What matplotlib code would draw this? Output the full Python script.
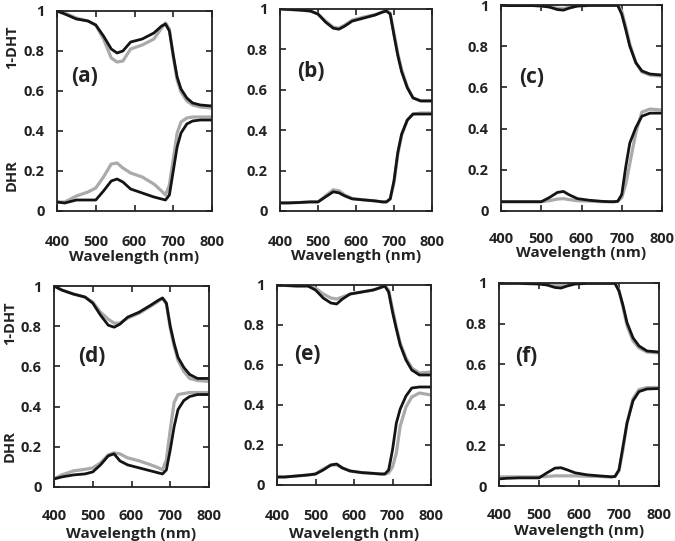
import matplotlib
matplotlib.use("Agg")
from matplotlib import pyplot as plt

plt.rcParams['font.family'] = ['Open Sans', 'DejaVu Sans']
plt.rcParams['font.weight'] = 'bold'

# wavelength grid (nm), shared by all curves
wavelength = [400, 420, 450, 480, 500, 520, 540, 555, 570, 590, 620, 650, 670, 680, 690, 700, 710, 720, 735, 750, 770, 800]

# (a)
a_dht_black = [1.0, 0.985, 0.96, 0.95, 0.93, 0.875, 0.81, 0.79, 0.80, 0.845, 0.86, 0.89, 0.925, 0.935, 0.9, 0.78, 0.67, 0.61, 0.565, 0.54, 0.53, 0.525]
a_dht_gray = [1.0, 0.99, 0.965, 0.95, 0.93, 0.86, 0.765, 0.745, 0.75, 0.81, 0.83, 0.86, 0.915, 0.94, 0.91, 0.77, 0.655, 0.595, 0.55, 0.53, 0.52, 0.515]
a_dhr_black = [0.045, 0.04, 0.055, 0.055, 0.055, 0.10, 0.15, 0.16, 0.145, 0.11, 0.09, 0.07, 0.06, 0.055, 0.08, 0.2, 0.32, 0.39, 0.435, 0.45, 0.455, 0.455]
a_dhr_gray = [0.045, 0.045, 0.075, 0.095, 0.115, 0.17, 0.235, 0.24, 0.215, 0.19, 0.17, 0.135, 0.10, 0.08, 0.13, 0.26, 0.39, 0.445, 0.465, 0.47, 0.47, 0.47]

# (b)
b_dht_black = [1.0, 0.998, 0.995, 0.99, 0.975, 0.935, 0.905, 0.90, 0.915, 0.94, 0.955, 0.97, 0.985, 0.99, 0.975, 0.87, 0.77, 0.69, 0.61, 0.56, 0.545, 0.545]
b_dht_gray = [1.0, 0.998, 0.995, 0.99, 0.975, 0.94, 0.91, 0.905, 0.92, 0.945, 0.96, 0.972, 0.985, 0.992, 0.98, 0.88, 0.78, 0.70, 0.615, 0.56, 0.545, 0.545]
b_dhr_black = [0.04, 0.04, 0.042, 0.045, 0.045, 0.07, 0.095, 0.09, 0.075, 0.06, 0.055, 0.05, 0.045, 0.045, 0.06, 0.15, 0.29, 0.38, 0.45, 0.48, 0.48, 0.48]
b_dhr_gray = [0.04, 0.04, 0.042, 0.045, 0.045, 0.075, 0.105, 0.1, 0.08, 0.062, 0.055, 0.05, 0.045, 0.045, 0.06, 0.14, 0.28, 0.375, 0.45, 0.48, 0.485, 0.485]

# (c)
c_dht_black = [0.998, 0.997, 0.997, 0.997, 0.995, 0.99, 0.978, 0.975, 0.985, 0.995, 0.998, 0.998, 0.998, 0.998, 0.998, 0.955, 0.88, 0.80, 0.72, 0.68, 0.665, 0.66]
c_dht_gray = [1.0, 1.0, 0.998, 0.998, 0.996, 0.992, 0.985, 0.983, 0.99, 0.996, 0.998, 0.998, 0.998, 0.998, 0.998, 0.97, 0.895, 0.81, 0.72, 0.675, 0.66, 0.655]
c_dhr_black = [0.045, 0.045, 0.045, 0.045, 0.045, 0.065, 0.09, 0.095, 0.078, 0.06, 0.052, 0.047, 0.045, 0.045, 0.047, 0.08, 0.215, 0.33, 0.405, 0.46, 0.475, 0.475]
c_dhr_gray = [0.045, 0.045, 0.045, 0.045, 0.045, 0.05, 0.058, 0.06, 0.055, 0.05, 0.048, 0.045, 0.045, 0.045, 0.047, 0.065, 0.13, 0.23, 0.38, 0.48, 0.495, 0.49]

# (d)
d_dht_black = [1.0, 0.98, 0.96, 0.945, 0.915, 0.855, 0.805, 0.795, 0.81, 0.845, 0.87, 0.905, 0.93, 0.94, 0.915, 0.80, 0.715, 0.645, 0.595, 0.56, 0.54, 0.54]
d_dht_gray = [1.0, 0.98, 0.96, 0.945, 0.92, 0.87, 0.835, 0.815, 0.815, 0.84, 0.865, 0.90, 0.925, 0.94, 0.91, 0.79, 0.70, 0.63, 0.575, 0.54, 0.53, 0.525]
d_dhr_black = [0.04, 0.05, 0.06, 0.065, 0.075, 0.11, 0.155, 0.165, 0.13, 0.11, 0.095, 0.08, 0.07, 0.065, 0.085, 0.185, 0.30, 0.385, 0.43, 0.45, 0.46, 0.46]
d_dhr_gray = [0.04, 0.06, 0.08, 0.088, 0.095, 0.12, 0.16, 0.17, 0.165, 0.145, 0.13, 0.11, 0.095, 0.085, 0.135, 0.285, 0.42, 0.46, 0.465, 0.47, 0.47, 0.47]

# (e)
e_dht_black = [0.998, 0.998, 0.995, 0.995, 0.975, 0.935, 0.91, 0.905, 0.93, 0.955, 0.965, 0.975, 0.988, 0.995, 0.965, 0.865, 0.78, 0.70, 0.625, 0.575, 0.55, 0.55]
e_dht_gray = [0.998, 0.998, 0.995, 0.995, 0.985, 0.955, 0.935, 0.93, 0.94, 0.955, 0.965, 0.975, 0.988, 0.995, 0.975, 0.88, 0.79, 0.71, 0.635, 0.585, 0.56, 0.565]
e_dhr_black = [0.04, 0.04, 0.045, 0.05, 0.055, 0.075, 0.1, 0.105, 0.085, 0.07, 0.062, 0.058, 0.055, 0.055, 0.075, 0.175, 0.31, 0.38, 0.445, 0.485, 0.49, 0.49]
e_dhr_gray = [0.04, 0.04, 0.045, 0.05, 0.055, 0.08, 0.1, 0.1, 0.085, 0.07, 0.062, 0.058, 0.055, 0.055, 0.06, 0.09, 0.16, 0.295, 0.39, 0.44, 0.46, 0.45]

# (f)
f_dht_black = [0.998, 0.998, 0.998, 0.996, 0.995, 0.99, 0.978, 0.975, 0.985, 0.995, 0.998, 0.998, 0.998, 0.998, 0.998, 0.96, 0.89, 0.805, 0.73, 0.69, 0.665, 0.66]
f_dht_gray = [1.0, 1.0, 1.0, 0.998, 0.998, 0.995, 0.99, 0.988, 0.99, 0.997, 0.998, 0.998, 0.998, 0.998, 0.998, 0.965, 0.88, 0.79, 0.715, 0.68, 0.66, 0.655]
f_dhr_black = [0.035, 0.038, 0.04, 0.04, 0.04, 0.065, 0.088, 0.09, 0.08, 0.065, 0.055, 0.05, 0.047, 0.045, 0.047, 0.08, 0.195, 0.31, 0.42, 0.465, 0.478, 0.48]
f_dhr_gray = [0.045, 0.045, 0.045, 0.045, 0.045, 0.047, 0.05, 0.05, 0.05, 0.05, 0.048, 0.047, 0.045, 0.045, 0.047, 0.075, 0.18, 0.31, 0.43, 0.475, 0.485, 0.485]

panel_names = ['(a)', '(b)', '(c)', '(d)', '(e)', '(f)']
x_ticks = [400, 500, 600, 700, 800]
y_ticks = [0, 0.2, 0.4, 0.6, 0.8, 1]
y_tick_labels = ['0', '0.2', '0.4', '0.6', '0.8', '1']

panels = [
    (a_dht_black, a_dht_gray, a_dhr_black, a_dhr_gray),
    (b_dht_black, b_dht_gray, b_dhr_black, b_dhr_gray),
    (c_dht_black, c_dht_gray, c_dhr_black, c_dhr_gray),
    (d_dht_black, d_dht_gray, d_dhr_black, d_dhr_gray),
    (e_dht_black, e_dht_gray, e_dhr_black, e_dhr_gray),
    (f_dht_black, f_dht_gray, f_dhr_black, f_dhr_gray),
]

W, H = 675.0, 541.0
# axes boxes in pixels: left, right, top, bottom
boxes = [(57, 212, 11, 211), (280, 432, 9, 211), (501, 662, 5, 211),
         (54, 209, 286, 487), (277, 431, 285, 485), (499, 659, 283, 486)]
# label spots (axes fraction) and x label height
name_pos = [(0.18, 0.67), (0.2, 0.69), (0.19, 0.65), (0.245, 0.65), (0.195, 0.655), (0.17, 0.64)]
xlabel_y = [-0.195, -0.19, -0.172, -0.2, -0.21, -0.185]
xtick_pad = [17, 17, 15, 16, 17, 16]

fig = plt.figure(figsize=(6.75, 5.41), dpi=100)

for i, (dht_k, dht_g, dhr_k, dhr_g) in enumerate(panels):
    l, r, t, b = boxes[i]
    ax = fig.add_axes([l / W, (H - b) / H, (r - l) / W, (b - t) / H])
    ax.plot(wavelength, dht_g, color='#aaaaaa', lw=2.3)
    ax.plot(wavelength, dhr_g, color='#aaaaaa', lw=2.3)
    ax.plot(wavelength, dht_k, color='#141414', lw=2.0)
    ax.plot(wavelength, dhr_k, color='#141414', lw=2.0)
    ax.set_xlim(400, 800)
    ax.set_ylim(0, 1)
    ax.set_xticks(x_ticks)
    ax.set_yticks(y_ticks)
    ax.set_yticklabels(y_tick_labels)
    ax.tick_params(direction='in', length=4, width=1.2, top=True, right=True,
                   labelsize=10.5, colors='#222222')
    ax.tick_params(axis='x', pad=xtick_pad[i])
    ax.tick_params(axis='y', pad=9)
    for s in ax.spines.values():
        s.set_linewidth(1.3)
        s.set_color('#222222')
    ax.set_xlabel('Wavelength (nm)', fontsize=11, fontweight='bold', color='#222222', va='top')
    ax.xaxis.set_label_coords(0.5, xlabel_y[i])
    ax.text(name_pos[i][0], name_pos[i][1], panel_names[i], transform=ax.transAxes,
            ha='center', va='center', fontsize=15, fontweight='bold', color='#222222')

fig.text(12 / W, 1 - 47 / H, '1-DHT', rotation=90, ha='center', va='center', fontsize=10.5, fontweight='bold', color='#222222')
fig.text(12 / W, 1 - 175 / H, 'DHR', rotation=90, ha='center', va='center', fontsize=10.5, fontweight='bold', color='#222222')
fig.text(10 / W, 1 - 323 / H, '1-DHT', rotation=90, ha='center', va='center', fontsize=10.5, fontweight='bold', color='#222222')
fig.text(10 / W, 1 - 446 / H, 'DHR', rotation=90, ha='center', va='center', fontsize=10.5, fontweight='bold', color='#222222')

plt.savefig('out.png', dpi=100)
